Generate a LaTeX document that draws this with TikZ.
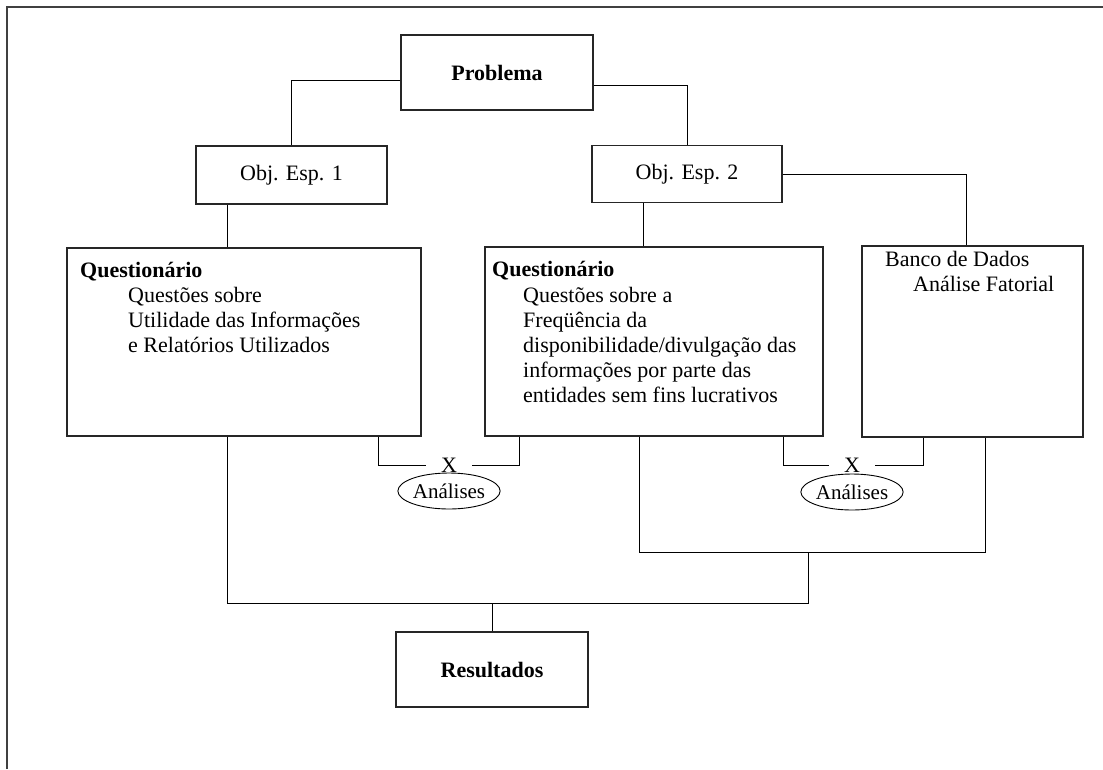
\documentclass[tikz,border=0pt]{standalone}
\usepackage{fontspec}
\setmainfont{Liberation Serif}
\usetikzlibrary{shapes.geometric}
\begin{document}
\begin{tikzpicture}[x=1pt,y=-1pt,
  box/.style={draw=black!85, line width=1.1pt, inner sep=0pt},
  conn/.style={draw=black, line width=0.9pt},
  fnt/.style={font=\fontsize{22}{25}\selectfont},
  bfnt/.style={font=\bfseries\fontsize{22}{25}\selectfont},
  txt/.style={inner sep=0pt, anchor=base west, fnt},
  btxt/.style={inner sep=0pt, anchor=base west, bfnt},
  xmark/.style={inner sep=0pt, minimum width=46pt, fnt},
  ell/.style={draw=black, line width=0.9pt, ellipse, inner sep=0pt, minimum width=98pt, minimum height=36pt, font=\fontsize{21}{24}\selectfont}
]
\useasboundingbox (0,0) rectangle (1103,769);
\draw[line width=1.3pt, black!75] (7,769) -- (7,7) -- (1103,7);

% boxes
\node[box, minimum width=192pt, minimum height=75pt, bfnt] (prob) at (497,72.5) {Problema};
\node[box, minimum width=191pt, minimum height=58pt, fnt] (obj1) at (291.5,175) {Obj. Esp. 1};
\node[box, minimum width=190pt, minimum height=57pt, fnt] (obj2) at (687,174) {Obj. Esp. 2};
\node[box, minimum width=354pt, minimum height=188pt] (q1) at (244,342) {};
\node[box, minimum width=338pt, minimum height=189pt] (q2) at (654,341.5) {};
\node[box, minimum width=221pt, minimum height=191pt] (banco) at (972.5,341.5) {};
\node[box, minimum width=192pt, minimum height=75pt, bfnt] (res) at (492,669.5) {Resultados};

% texts inside boxes
\node[btxt] (q1a) at (80,277) {Questionário};
\node[txt] (q1b) at (128,302) {Questões sobre};
\node[txt] (q1c) at (128,327) {Utilidade das Informações};
\node[txt] (q1d) at (128,352) {e Relatórios Utilizados};

\node[btxt] (q2a) at (492,276) {Questionário};
\node[txt] (q2b) at (523,302) {Questões sobre a};
\node[txt] (q2c) at (523,327) {Freqüência da};
\node[txt] (q2d) at (523,352) {disponibilidade/divulgação das};
\node[txt] (q2e) at (523,377) {informações por parte das};
\node[txt] (q2f) at (523,402) {entidades sem fins lucrativos};

\node[txt] (b1) at (885,266) {Banco de Dados};
\node[txt] (b2) at (913,291) {Análise Fatorial};

% X marks and ellipses
\node[xmark] (x1) at (449,465) {X};
\node[xmark] (x2) at (852,465) {X};
\node[ell] (a1) at (449,491) {Análises};
\node[ell] (a2) at (852,492) {Análises};

% helper coordinates
\coordinate (xa) at (227,0);
\coordinate (xb) at (643,0);
\coordinate (xc) at (966,0);
\coordinate (xd) at (378,0);
\coordinate (xe) at (519,0);
\coordinate (xf) at (783,0);
\coordinate (xg) at (923,0);
\coordinate (xi) at (639,0);
\coordinate (xj) at (985,0);
\coordinate (xk) at (808,0);
\coordinate (ry2) at (0,552);
\coordinate (ry3) at (0,603);

% connectors
\draw[conn] ([yshift=-7.5pt]prob.west) -| (obj1.north);
\draw[conn] ([yshift=-13pt]prob.east) -| (obj2.north);
\draw[conn] (obj1.south -| xa) -- (q1.north -| xa);
\draw[conn] (obj2.south -| xb) -- (q2.north -| xb);
\draw[conn] (obj2.east) -| (banco.north -| xc);

\draw[conn] (q1.south -| xd) |- (x1.west);
\draw[conn] (x1.east) -| (q2.south -| xe);
\draw[conn] (q2.south -| xf) |- (x2.west);
\draw[conn] (x2.east) -| (banco.south -| xg);

\draw[conn] (q1.south -| xa) -- (ry3 -| xa) -- (ry3 -| xk) -- (ry2 -| xk);
\draw[conn] (q2.south -| xi) |- (ry2 -| xj) -- (banco.south -| xj);
\draw[conn] (res.north) -- (res.north |- ry3);
\end{tikzpicture}
\end{document}
